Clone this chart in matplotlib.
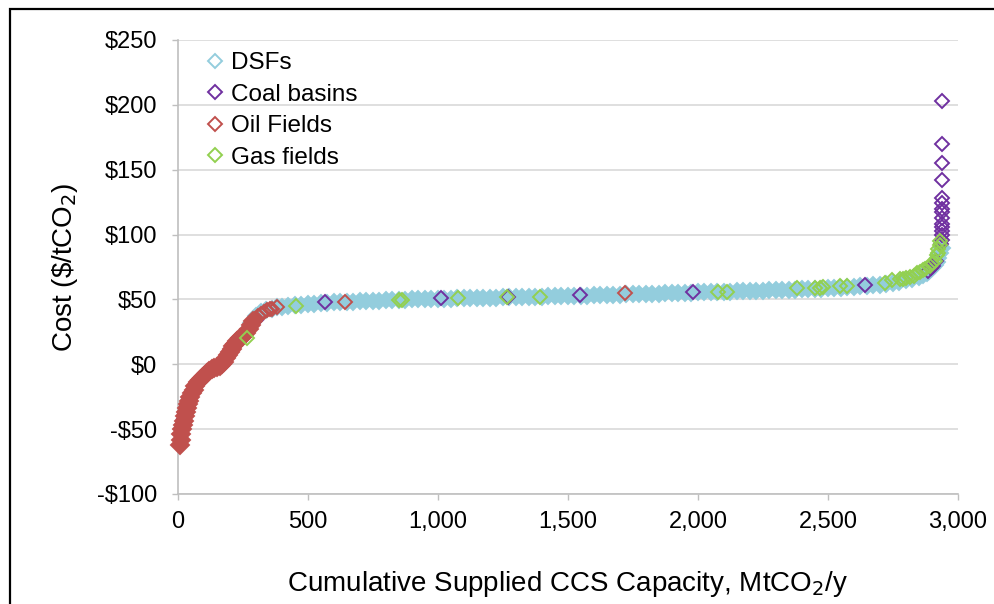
import matplotlib.pyplot as plt
from matplotlib.patches import Rectangle
from matplotlib.ticker import FuncFormatter

plt.rcParams['font.family'] = ['Liberation Sans', 'DejaVu Sans']

# DSFs - dense band (capacity, cost)
dsf_pts = [(280, 32), (300, 37), (320, 40), (340, 42), (360, 43), (380, 43.8), (400, 44.4),
           (425, 45.0), (450, 45.5), (475, 46.0), (500, 46.4), (525, 46.8), (550, 47.1),
           (575, 47.4), (600, 47.7), (625, 47.9), (650, 48.1), (675, 48.3), (700, 48.5),
           (725, 48.7), (750, 48.9), (775, 49.1), (800, 49.3), (825, 49.5), (850, 49.7),
           (875, 49.8), (900, 50.0), (925, 50.1), (950, 50.2), (975, 50.4), (1000, 50.5),
           (1025, 50.6), (1050, 50.7), (1075, 50.8), (1100, 50.9), (1125, 51.0), (1150, 51.1),
           (1175, 51.2), (1200, 51.3), (1225, 51.4), (1250, 51.5), (1275, 51.6), (1300, 51.7),
           (1325, 51.8), (1350, 51.9), (1375, 52.0), (1400, 52.2), (1425, 52.3), (1450, 52.4),
           (1475, 52.5), (1500, 52.7), (1525, 52.8), (1550, 52.9), (1575, 53.0), (1600, 53.2),
           (1625, 53.3), (1650, 53.4), (1675, 53.5), (1700, 53.7), (1725, 53.8), (1750, 53.9),
           (1775, 54.0), (1800, 54.2), (1825, 54.3), (1850, 54.5), (1875, 54.6), (1900, 54.8),
           (1925, 54.9), (1950, 55.1), (1975, 55.2), (2000, 55.4), (2025, 55.5), (2050, 55.6),
           (2075, 55.8), (2100, 55.9), (2125, 56.0), (2150, 56.2), (2175, 56.3), (2200, 56.5),
           (2225, 56.6), (2250, 56.8), (2275, 56.9), (2300, 57.1), (2325, 57.2), (2350, 57.4),
           (2375, 57.6), (2400, 57.8), (2425, 58.0), (2450, 58.2), (2475, 58.4), (2500, 58.6),
           (2525, 58.8), (2550, 59.1), (2575, 59.4), (2600, 59.7), (2625, 60.1), (2650, 60.5),
           (2675, 61.0), (2700, 61.5), (2725, 62.1), (2750, 62.8), (2775, 63.6), (2800, 64.6),
           (2825, 65.8), (2850, 67.3), (2865, 68.6), (2880, 70.3), (2890, 72.0), (2900, 74.0),
           (2910, 76.5), (2918, 79.0), (2925, 82.0), (2932, 86.0), (2938, 90.0)]

coal_pts = [(36, -32), (28, -38), (23, -42), (41, -28), (300, 34),
            (565, 47.8), (1011, 50.9), (1269, 51.7), (1546, 53.2), (1981, 55.5), (2642, 61),
            (2885, 72), (2895, 74), (2905, 76), (2915, 80), (2935, 93), (2937, 96),
            (2937, 99.5), (2937, 103), (2937, 106), (2937, 108.5), (2937, 113), (2937, 117.4),
            (2937, 120), (2937, 124), (2937, 128.5), (2937, 142.4), (2937, 155.2),
            (2937, 169.6), (2937, 203)]

# oil fields: solid band at low capacities, then single points
oil_band = [(7, -62), (10, -58), (13, -54), (16, -50), (19, -47), (22, -44), (26, -40),
            (30, -37), (34, -34), (38, -31), (43, -28), (48, -25), (54, -22), (60, -20),
            (67, -17), (75, -14), (83, -12), (91, -10.5), (100, -9), (110, -7), (120, -5),
            (130, -4), (140, -3), (150, -2), (160, -1), (170, 0.5), (178, 2), (185, 4.5),
            (192, 7), (199, 9.5), (206, 12), (213, 14), (220, 16), (228, 18), (238, 20),
            (250, 22), (262, 24), (272, 27), (280, 30), (288, 33)]
oil_pts = [(295, 35), (308, 37), (318, 38.5), (330, 40), (342, 41.5), (352, 42.3),
           (362, 43), (381, 44), (642, 48), (1719, 54.7)]

gas_pts = [(265, 20), (454, 44.7), (850, 49.3), (860, 49.5), (1077, 50.9), (1265, 51.6),
           (1392, 51.9), (2077, 55.7), (2111, 55.9), (2381, 58.6), (2450, 58.9), (2469, 59),
           (2482, 59.5), (2546, 60), (2573, 60.2), (2719, 63), (2746, 64.7), (2777, 65.5),
           (2790, 66), (2800, 66.5), (2815, 67), (2830, 68), (2842, 70), (2855, 71),
           (2865, 72.5), (2875, 73.5), (2892, 76), (2900, 78), (2912, 80), (2920, 84),
           (2923, 86), (2925, 89), (2931, 92), (2931, 95)]

series = ['DSFs', 'Coal basins', 'Oil Fields', 'Gas fields']
colors = ['#93CDDD', '#7030A0', '#C0504D', '#92D050']

ms = 7.4
mew = 1.4

fig = plt.figure(figsize=(9.95, 6.04), dpi=100)
ax = fig.add_axes([178/995, 1-494/604, 780/995, 454/604])

# Excel draws markers unclipped, so clip_on=False
dx, dy = zip(*dsf_pts)
ax.plot(dx, dy, 'D', ms=8.0, mfc=colors[0], mec=colors[0], mew=mew, ls='none', zorder=2, clip_on=False)
cx, cy = zip(*coal_pts)
ax.plot(cx, cy, 'D', ms=ms, mfc='none', mec=colors[1], mew=mew, ls='none', zorder=3, clip_on=False)
ox, oy = zip(*oil_band)
ax.plot(ox, oy, 'D', ms=9.5, mfc=colors[2], mec=colors[2], mew=mew, ls='none', zorder=4, clip_on=False)
ox, oy = zip(*oil_pts)
ax.plot(ox, oy, 'D', ms=ms, mfc='none', mec=colors[2], mew=mew, ls='none', zorder=4, clip_on=False)
gx, gy = zip(*gas_pts)
ax.plot(gx, gy, 'D', ms=ms, mfc='none', mec=colors[3], mew=mew, ls='none', zorder=5, clip_on=False)

# legend shows hollow diamonds for every series
for name, c in zip(series, colors):
    ax.plot([], [], 'D', ms=ms, mfc='none', mec=c, mew=mew, ls='none', label=name)
ax.legend(loc='upper left', bbox_to_anchor=(0.022, 1.0), frameon=False, fontsize=17.5,
          handlelength=0.6, handletextpad=0.38, labelspacing=0.39, borderaxespad=0.1)

ax.set_xlim(0, 3000)
ax.set_ylim(-100, 250)
ax.set_xticks(range(0, 3001, 500))
ax.set_yticks(range(-100, 251, 50))
ax.xaxis.set_major_formatter(FuncFormatter(lambda v, p: f'{int(v):,}'))
ax.yaxis.set_major_formatter(FuncFormatter(lambda v, p: f'${int(v)}' if v >= 0 else f'-${int(-v)}'))

ax.grid(axis='y', color='#D9D9D9', lw=1.2, zorder=0)
ax.set_axisbelow(True)
for s in ['top', 'right']:
    ax.spines[s].set_visible(False)
for s in ['left', 'bottom']:
    ax.spines[s].set_color('#BFBFBF')
    ax.spines[s].set_linewidth(1.2)
ax.tick_params(axis='both', colors='#BFBFBF', labelcolor='black', labelsize=17, length=4, width=1)
ax.tick_params(axis='y', pad=11)
ax.tick_params(axis='x', pad=8)

ax.set_xlabel('Cumulative Supplied CCS Capacity, MtCO$_2$/y', fontsize=20, labelpad=26)
ax.set_ylabel('Cost (\\$/tCO$_2$)', fontsize=20, labelpad=12)

fig.patches.append(Rectangle((9.5/995, -0.1), 1.2, 1.1 - 9.5/604, transform=fig.transFigure,
                             fill=False, ec='black', lw=1.6))

plt.savefig('out.png', dpi=100)
plt.close()
